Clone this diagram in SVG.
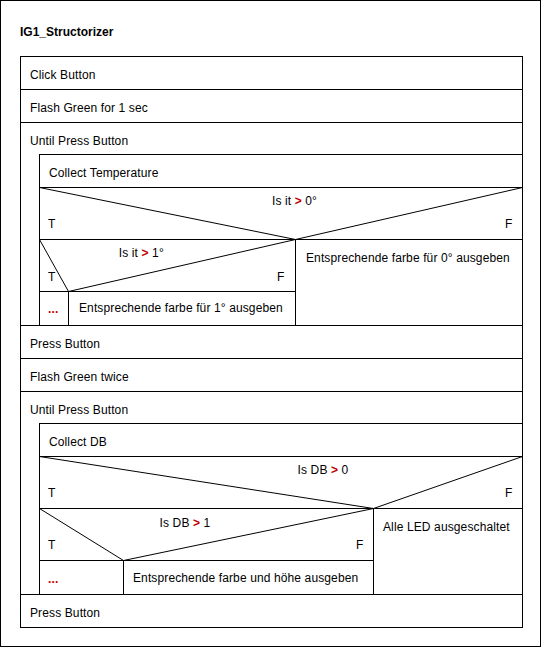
<svg xmlns="http://www.w3.org/2000/svg" width="543" height="648" viewBox="0 0 543 648">
<style>
.b{fill:#fff;stroke:#000;stroke-width:1}
.l{fill:none;stroke:#000;stroke-width:1}
text{font-family:"Liberation Sans",Arial,sans-serif;font-size:12px;fill:#000;letter-spacing:0.12px}
.t{font-weight:bold;letter-spacing:0}
.op{fill:#c00000;font-weight:bold}
.m{text-anchor:middle}
</style>
<rect x="0" y="0" width="543" height="648" fill="#fff"/>
<rect class="l" x="0.5" y="0.5" width="540" height="646"/>
<text class="t" x="20" y="36">IG1_Structorizer</text>
<g id="main">
<rect class="b" x="20.5" y="56.5" width="502" height="571"/>
</g>
<g id="click">
<rect class="b" x="20.5" y="56.5" width="502" height="33"/>
<text x="30" y="79">Click Button</text>
</g>
<g id="flash1">
<rect class="b" x="20.5" y="89.5" width="502" height="33"/>
<text x="30" y="112">Flash Green for 1 sec</text>
</g>
<g id="loop1">
<rect class="b" x="20.5" y="122.5" width="502" height="203"/>
<text x="30" y="145">Until Press Button</text>
<line class="l" x1="39.5" y1="154.5" x2="39.5" y2="325.5"/>
</g>
<g id="collectTemp">
<rect class="b" x="39.5" y="154.5" width="483" height="33"/>
<text x="49" y="177">Collect Temperature</text>
</g>
<g id="if1">
<rect class="b" x="39.5" y="187.5" width="483" height="138"/>
<line class="l" x1="39.5" y1="239.5" x2="522.5" y2="239.5"/>
<polyline class="l" points="39.5,187.5 295.5,239.5 522.5,187.5"/>
<line class="l" x1="295.5" y1="239.5" x2="295.5" y2="325.5"/>
<text class="m" x="294.5" y="205">Is it <tspan class="op">&gt;</tspan> 0°</text>
<text x="48" y="228">T</text>
<text x="505" y="228">F</text>
<text x="306" y="262">Entsprechende farbe für 0° ausgeben</text>
</g>
<g id="if2">
<rect class="b" x="39.5" y="239.5" width="256" height="86"/>
<line class="l" x1="39.5" y1="291.5" x2="295.5" y2="291.5"/>
<polyline class="l" points="39.5,239.5 68.5,291.5 295.5,239.5"/>
<line class="l" x1="68.5" y1="291.5" x2="68.5" y2="325.5"/>
<text class="m" x="141.3" y="257">Is it <tspan class="op">&gt;</tspan> 1°</text>
<text x="48" y="281">T</text>
<text x="277" y="281">F</text>
<text class="op" x="48" y="313">...</text>
<text x="79" y="312">Entsprechende farbe für 1° ausgeben</text>
</g>
<g id="press1">
<rect class="b" x="20.5" y="325.5" width="502" height="33"/>
<text x="30" y="348">Press Button</text>
</g>
<g id="flash2">
<rect class="b" x="20.5" y="358.5" width="502" height="33"/>
<text x="30" y="381">Flash Green twice</text>
</g>
<g id="loop2">
<rect class="b" x="20.5" y="391.5" width="502" height="203"/>
<text x="30" y="414">Until Press Button</text>
<line class="l" x1="39.5" y1="423.5" x2="39.5" y2="594.5"/>
</g>
<g id="collectDB">
<rect class="b" x="39.5" y="423.5" width="483" height="33"/>
<text x="49" y="446">Collect DB</text>
</g>
<g id="if3">
<rect class="b" x="39.5" y="456.5" width="483" height="138"/>
<line class="l" x1="39.5" y1="508.5" x2="522.5" y2="508.5"/>
<polyline class="l" points="39.5,456.5 373.5,508.5 522.5,456.5"/>
<line class="l" x1="373.5" y1="508.5" x2="373.5" y2="594.5"/>
<text class="m" x="323" y="474">Is DB <tspan class="op">&gt;</tspan> 0</text>
<text x="48" y="497">T</text>
<text x="505" y="497">F</text>
<text x="383" y="531">Alle LED ausgeschaltet</text>
</g>
<g id="if4">
<rect class="b" x="39.5" y="508.5" width="334" height="86"/>
<line class="l" x1="39.5" y1="560.5" x2="373.5" y2="560.5"/>
<polyline class="l" points="39.5,508.5 123.5,560.5 373.5,508.5"/>
<line class="l" x1="123.5" y1="560.5" x2="123.5" y2="594.5"/>
<text class="m" x="185" y="527">Is DB <tspan class="op">&gt;</tspan> 1</text>
<text x="48" y="549">T</text>
<text x="356" y="549">F</text>
<text class="op" x="48" y="583">...</text>
<text x="133" y="582">Entsprechende farbe und höhe ausgeben</text>
</g>
<g id="press2">
<rect class="b" x="20.5" y="594.5" width="502" height="33"/>
<text x="30" y="617">Press Button</text>
</g>
</svg>
